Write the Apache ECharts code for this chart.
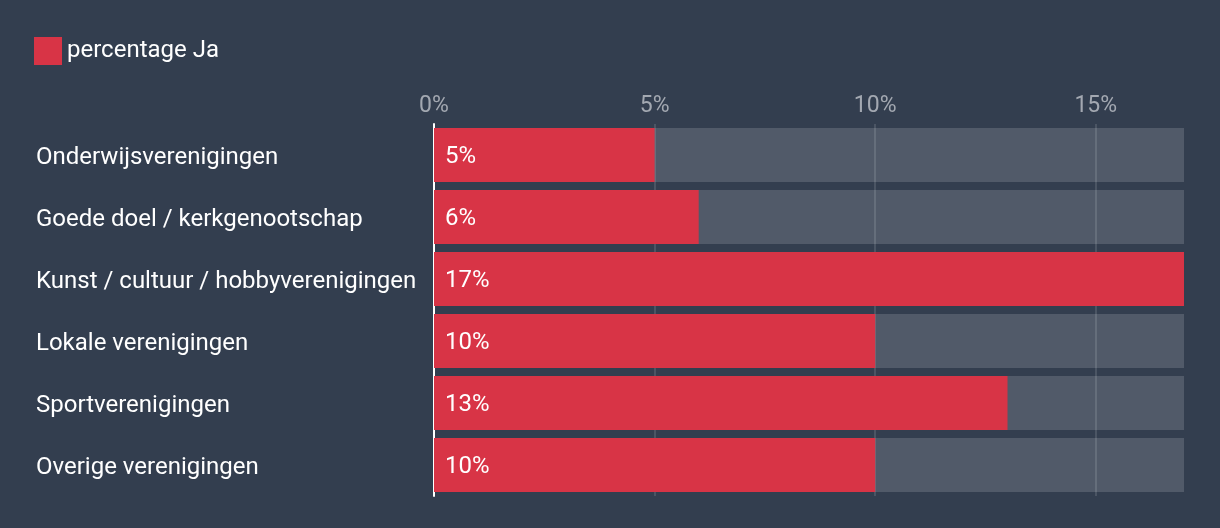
<!DOCTYPE html>
<html>
<head>
<meta charset="utf-8">
<script src="https://cdn.jsdelivr.net/npm/echarts@6/dist/echarts.min.js"></script>
<style>
html,body{margin:0;padding:0;background:#333e4f;}
#chart{width:1220px;height:528px;}
</style>
</head>
<body>
<div id="chart"></div>
<script>
const categories = ["Onderwijsverenigingen", "Goede doel / kerkgenootschap", "Kunst / cultuur / hobbyverenigingen", "Lokale verenigingen", "Sportverenigingen", "Overige verenigingen"];
const values = [5, 6, 17, 10, 13, 10];
const seriesName = "percentage Ja";

const chart = echarts.init(document.getElementById('chart'));
chart.setOption({
  backgroundColor: '#333e4f',
  textStyle: { fontFamily: 'Roboto' },
  legend: {
    left: 29, top: 32,
    itemWidth: 28, itemHeight: 28,
    icon: 'rect',
    data: [seriesName],
    textStyle: { color: '#ffffff', fontSize: 24, fontFamily: 'Roboto' }
  },
  grid: { left: 434, right: 36, top: 124, bottom: 32, containLabel: false },
  xAxis: {
    type: 'value', position: 'top', min: 0, max: 17, interval: 5,
    axisLine: { show: false }, axisTick: { show: false },
    axisLabel: { color: '#a3a8b1', fontSize: 23, fontFamily: 'Roboto', margin: 6, formatter: v => v + '%',
      showMaxLabel: false },
    splitLine: { show: true, showMaxLine: false, lineStyle: { color: 'rgba(255,255,255,0.12)', width: 2 } }
  },
  yAxis: {
    type: 'category', inverse: true, data: categories,
    axisLine: { show: true, lineStyle: { color: '#ffffff', width: 2 } },
    axisTick: { show: false },
    axisLabel: { align: 'left', margin: 398, formatter: v => '{a|' + v + '}',
      rich: { a: { color: '#ffffff', fontSize: 24, fontFamily: 'Roboto', padding: [5, 0, 0, 0] } } }
  },
  series: [{
    name: seriesName, type: 'bar', data: values,
    barCategoryGap: '13%',
    itemStyle: { color: '#d83446' },
    showBackground: true,
    backgroundStyle: { color: 'rgba(255,255,255,0.15)' },
    label: { show: true, position: 'insideLeft', offset: [6, 2], color: '#ffffff', fontSize: 24, fontFamily: 'Roboto', formatter: p => p.value + '%' },
    z: 1
  }]
});
</script>
</body>
</html>
